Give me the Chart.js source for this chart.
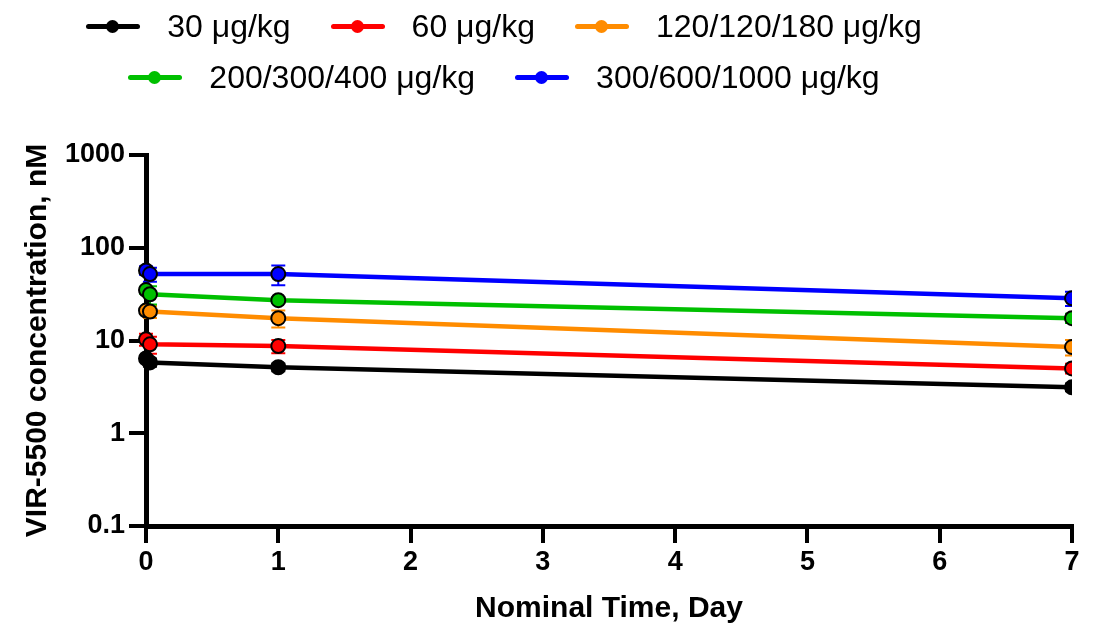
<!DOCTYPE html>
<html>
<head>
<meta charset="utf-8">
<script src="https://cdn.jsdelivr.net/npm/chart.js@4/dist/chart.umd.min.js"></script>
<style>
  html, body { margin: 0; padding: 0; background: #fff; }
  #wrap { position: relative; width: 1094px; height: 627px; }
  #legend {
    position: absolute; left: 64px; top: 1px; width: 880px;
    display: flex; flex-wrap: wrap; justify-content: center;
    font-family: "Liberation Sans", Arial, sans-serif; font-size: 32px; line-height: 51px;
    z-index: 2;
  }
  .item { display: flex; align-items: center; margin: 0 20px; }
  .mark { position: relative; width: 54px; height: 51px; margin-right: 27px; }
  .mark .ln { position: absolute; left: 0; right: 0; top: 23px; height: 5px; border-radius: 3px; }
  .mark .dot { position: absolute; left: 20px; top: 19px; width: 13px; height: 13px; border-radius: 50%; }
  canvas { position: absolute; left: 0; top: 0; }
</style>
</head>
<body>
<div id="wrap">
  <div id="legend"></div>
  <canvas id="myChart" width="1094" height="627"></canvas>
</div>
<script>
//time points (days); last one is the next-dose peak just past day 7
const times = [0, 0.03, 1, 7, 7.01];
const doseLabels = ["30 μg/kg", "60 μg/kg", "120/120/180 μg/kg", "200/300/400 μg/kg", "300/600/1000 μg/kg"];

//mean concentrations, nM
const conc30 = [6.4, 5.8, 5.15, 3.13, 10];
const conc60 = [10.3, 9.1, 8.7, 5.0, 20];
const conc120 = [21, 20.5, 17.4, 8.5, 40];
const conc200 = [35, 31.5, 27.2, 17.4, 60];
const conc300 = [57, 52, 52, 28.5, 90];

//SD for the first four time points
const sd30 = [0.4, 0.6, 0.5, 0.3];
const sd60 = [1.5, 1.9, 1.4, 0.6];
const sd120 = [1.5, 3, 3.6, 1.6];
const sd200 = [3, 7, 2, 2];
const sd300 = [6, 9, 12.5, 5];

const yTicks = [0.1, 1, 10, 100, 1000];
const xTicks = [0, 1, 2, 3, 4, 5, 6, 7];

const seriesColors = ["#000000", "#ff0000", "#ff8c00", "#00c000", "#0000ff"];
const allConc = [conc30, conc60, conc120, conc200, conc300];
const allSd = [sd30, sd60, sd120, sd200, sd300];

//legend
const legend = document.getElementById("legend");
doseLabels.forEach((label, i) => {
  const item = document.createElement("div");
  item.className = "item";
  item.innerHTML =
    `<span class="mark"><span class="ln" style="background:${seriesColors[i]}"></span>` +
    `<span class="dot" style="background:${seriesColors[i]}"></span></span><span>${label}</span>`;
  legend.appendChild(item);
});

//error bars drawn under the lines
const errorBars = {
  id: "errorBars",
  beforeDatasetsDraw(chart) {
    const { ctx, chartArea, scales } = chart;
    ctx.save();
    ctx.beginPath();
    ctx.rect(chartArea.left - 20, chartArea.top - 20, chartArea.right - chartArea.left + 20, chartArea.bottom - chartArea.top + 40);
    ctx.clip();
    ctx.lineWidth = 2;
    allSd.forEach((sd, s) => {
      ctx.strokeStyle = seriesColors[s];
      sd.forEach((d, i) => {
        const x = scales.x.getPixelForValue(times[i]);
        const m = allConc[s][i];
        const yTop = scales.y.getPixelForValue(m + d);
        const yBot = scales.y.getPixelForValue(Math.max(m - d, 0.11));
        ctx.beginPath();
        ctx.moveTo(x, yTop); ctx.lineTo(x, yBot);
        ctx.moveTo(x - 7, yTop); ctx.lineTo(x + 7, yTop);
        ctx.moveTo(x - 7, yBot); ctx.lineTo(x + 7, yBot);
        ctx.stroke();
      });
    });
    ctx.restore();
  },
};

const datasets = allConc.map((conc, s) => ({
  label: doseLabels[s],
  data: times.map((t, i) => ({ x: t, y: conc[i] })),
  borderColor: seriesColors[s],
  backgroundColor: seriesColors[s],
  pointBackgroundColor: seriesColors[s],
  pointBorderColor: "#000",
  pointBorderWidth: 2,
  pointRadius: (c) => (c.raw && c.raw.x > 7 ? 0 : 7),
  borderWidth: 4.5,
  tension: 0,
  order: 5 - s,
  clip: { left: 12, top: 12, right: 0, bottom: 12 },
}));

const boldFont = (size) => ({ family: "'Liberation Sans', Arial, sans-serif", size: size, weight: "bold" });

new Chart("myChart", {
  type: "line",
  data: { datasets },
  plugins: [errorBars],
  options: {
    responsive: false,
    animation: false,
    events: [],
    layout: { padding: { top: 155, right: 22, left: 0, bottom: 0 } },
    plugins: { legend: { display: false }, tooltip: { enabled: false } },
    scales: {
      x: {
        type: "linear",
        min: 0,
        max: 7,
        afterBuildTicks: (axis) => { axis.ticks = xTicks.map((v) => ({ value: v })); },
        afterFit: (axis) => { axis.height = 101; },
        grid: { drawOnChartArea: false, drawTicks: true, tickLength: 17, lineWidth: 4, color: "#000" },
        border: { display: true, width: 5, color: "#000" },
        ticks: { color: "#000", font: boldFont(27), padding: 3, maxRotation: 0 },
        title: { display: true, text: "Nominal Time, Day", color: "#000", font: boldFont(30), padding: { top: 0, bottom: 0 } },
      },
      y: {
        type: "logarithmic",
        min: 0.1,
        max: 1000,
        afterBuildTicks: (axis) => { axis.ticks = yTicks.map((v) => ({ value: v })); },
        afterFit: (axis) => { axis.width = 146; },
        grid: { drawOnChartArea: false, drawTicks: true, tickLength: 17, lineWidth: 4, color: "#000" },
        border: { display: true, width: 5, color: "#000" },
        ticks: { color: "#000", font: boldFont(27), padding: 4, callback: (v) => String(v) },
        title: { display: true, text: "VIR-5500 concentration, nM", color: "#000", font: boldFont(30), padding: { top: 20, bottom: 0 } },
      },
    },
  },
});
</script>
</body>
</html>
